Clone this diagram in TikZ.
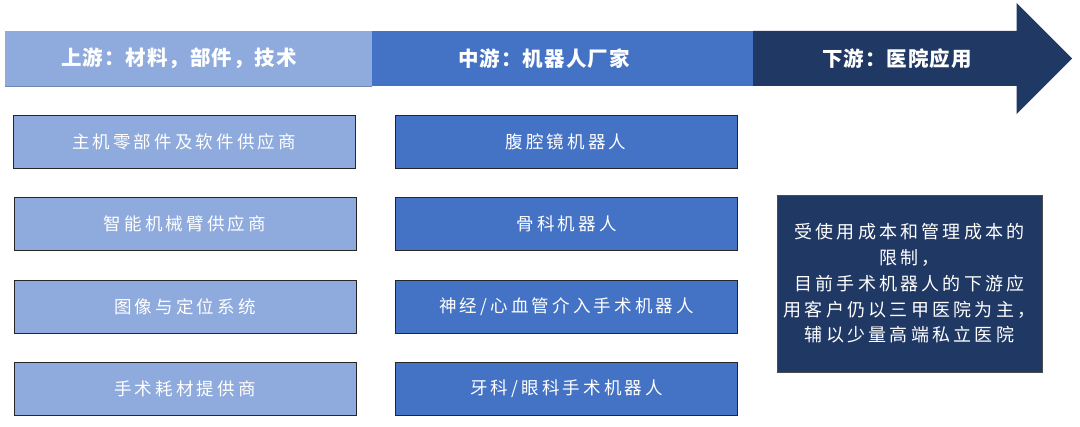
\documentclass[tikz,border=0pt]{standalone}
\usepackage{fontspec}
\newfontfamily\cjk[LetterSpace=18]{Noto Sans CJK SC}
\newfontfamily\cjkhead[LetterSpace=5]{Noto Sans CJK SC}
\definecolor{lightblue}{HTML}{8FAADC}
\definecolor{midblue}{HTML}{4472C4}
\definecolor{navy}{HTML}{203864}
\begin{document}
\begin{tikzpicture}[x=1pt,y=-1pt,
  headtxt/.style={text=white,font=\cjkhead\bfseries\fontsize{20.5}{24}\selectfont,inner sep=0pt},
  upbox/.style={draw=black!85,line width=0.9pt,fill=lightblue,text=white,font=\cjk\fontsize{17.5}{20}\selectfont,minimum width=342pt,minimum height=53pt,inner sep=0pt},
  midbox/.style={upbox,fill=midblue},
  notebox/.style={draw=black!70,line width=0.9pt,fill=navy,text=white,font=\cjk\fontsize{18}{25.7}\selectfont,minimum width=265pt,minimum height=177pt,inner sep=0pt,align=center}
]
\useasboundingbox (0,0) rectangle (1080,427);
% banner
\fill[lightblue] (5,31) rectangle (372,86);
\draw[lightblue!80!black,line width=0.6pt] (5,86) -- (372,86);
\fill[midblue] (372,31) rectangle (753,86);
\fill[navy] (753,31) -- (1016.5,31) -- (1016.5,3) -- (1072,58.5) -- (1016.5,114) -- (1016.5,86) -- (753,86) -- cycle;
\node[headtxt] (hup) at (179,58.5) {上游：材料，部件，技术};
\node[headtxt] (hmid) at (544,58.5) {中游：机器人厂家};
\node[headtxt] (hdown) at (897,58.5) {下游：医院应用};
% upstream boxes
\node[upbox] (u1) at (184,142) {主机零部件及软件供应商};
\node[upbox] (u2) at (185,224) {智能机械臂供应商};
\node[upbox] (u3) at (185,306.5) {图像与定位系统};
\node[upbox] (u4) at (185,389) {手术耗材提供商};
% midstream boxes
\node[midbox] (m1) at (566,142) {腹腔镜机器人};
\node[midbox] (m2) at (566.5,224) {骨科机器人};
\node[midbox] (m3) at (566.5,306.5) {神经/心血管介入手术机器人};
\node[midbox] (m4) at (566.5,389) {牙科/眼科手术机器人};
% downstream note
\node[notebox] (d1) at (909.5,283.5) {受使用成本和管理成本的\\限制，\\目前手术机器人的下游应\\用客户仍以三甲医院为主，\\辅以少量高端私立医院};
\end{tikzpicture}
\end{document}
